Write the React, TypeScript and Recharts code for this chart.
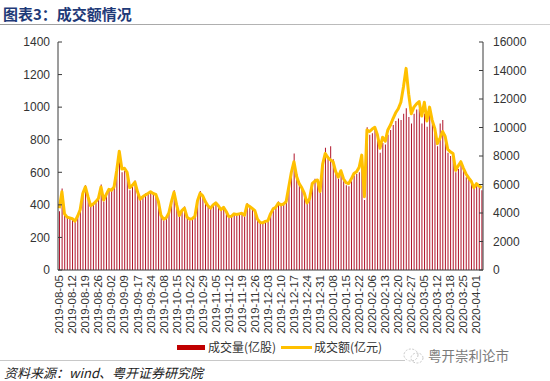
import React from 'react';
import { ComposedChart, Bar, Line, XAxis, YAxis } from 'recharts';

const startDate = '2019-08-05';
const endDate = '2020-04-03';
const holidays = [
  '2019-09-13', '2019-10-01', '2019-10-02', '2019-10-03', '2019-10-04', '2019-10-07',
  '2020-01-01', '2020-01-24', '2020-01-27', '2020-01-28', '2020-01-29', '2020-01-30', '2020-01-31',
];
const extraDays = ['2020-03-14'];

// 成交量(亿股)
const volume = [
  360, 500, 340, 320, 315, 310, 300, 325, 365, 480,
  520, 440, 390, 400, 415, 435, 525, 420, 470, 500,
  495, 520, 620, 720, 600, 610, 590, 490, 520, 550,
  470, 430, 455, 470, 475, 480, 465, 455, 410, 325,
  305, 315, 345, 425, 490, 395, 330, 370, 390, 320,
  305, 310, 325, 430, 485, 450, 415, 390, 375, 395,
  410, 390, 365, 380, 355, 320, 325, 340, 335, 340,
  345, 330, 410, 395, 370, 360, 305, 285, 285, 292,
  298, 340, 372, 385, 420, 395, 400, 420, 520, 610,
  716, 590, 545, 510, 460, 405, 430, 540, 560, 550,
  475, 660, 750, 700, 760, 680, 600, 560, 600, 545,
  520, 515, 545, 580, 590, 600, 650, 430, 876, 830,
  840, 860, 800, 720, 780, 770, 830, 860, 890, 915,
  930, 921, 960, 993, 940, 900, 960, 985, 990, 900,
  960, 880, 1000, 930, 860, 760, 900, 921, 830, 720,
  700, 690, 600, 620, 650, 620, 570, 560, 540, 500,
  520, 510, 490,
];

// 成交额(亿元)
const amount = [
  4340, 5490, 3940, 3710, 3660, 3600, 3430, 3770, 4230, 5370,
  5830, 5140, 4510, 4630, 4800, 5030, 5830, 4910, 5310, 5660,
  5600, 5830, 6970, 8340, 7090, 7140, 6860, 5770, 5940, 6170,
  5490, 4970, 5140, 5260, 5370, 5490, 5370, 5310, 4800, 3830,
  3570, 3660, 4000, 4800, 5460, 4570, 3830, 4170, 4340, 3710,
  3570, 3600, 3770, 4860, 5390, 5200, 4800, 4510, 4340, 4570,
  4710, 4510, 4230, 4400, 4110, 3750, 3770, 3940, 3890, 3940,
  3980, 3830, 4570, 4460, 4320, 4170, 3570, 3340, 3310, 3410,
  3450, 3940, 4290, 4400, 4690, 4570, 4630, 4800, 5830, 6860,
  7600, 6570, 6060, 5770, 5370, 4710, 5010, 6060, 6230, 6320,
  5510, 7430, 8180, 7890, 7720, 7600, 6900, 6520, 6970, 6400,
  6120, 6060, 6400, 6770, 6900, 7200, 8060, 5140, 9830, 9720,
  9890, 10010, 9490, 8550, 9320, 9030, 9830, 10170, 10630, 11030,
  11320, 11770, 12860, 14150, 12340, 10970, 11430, 11660, 11820, 10800,
  11770, 10460, 11430, 10520, 9940, 8860, 9260, 9720, 9370, 8460,
  8290, 8180, 6990, 7310, 7600, 7140, 6740, 6460, 6230, 5770,
  6060, 5890, 5770,
];

const leftTicks = [0, 200, 400, 600, 800, 1000, 1200, 1400];
const rightTicks = [0, 2000, 4000, 6000, 8000, 10000, 12000, 14000, 16000];

const seriesNames = { volume: '成交量(亿股)', amount: '成交额(亿元)' };
const titleText = '图表3：成交额情况';
const sourceText = '资料来源：wind、粤开证券研究院';
const watermarkText = '粤开崇利论市';

function buildDates(): string[] {
  const out: string[] = [];
  const d = new Date(startDate + 'T00:00:00Z');
  const end = new Date(endDate + 'T00:00:00Z');
  while (d <= end) {
    const s = d.toISOString().slice(0, 10);
    const wd = d.getUTCDay();
    if ((wd !== 0 && wd !== 6 && !holidays.includes(s)) || extraDays.includes(s)) out.push(s);
    d.setUTCDate(d.getUTCDate() + 1);
  }
  return out;
}

const dates = buildDates();
const data = dates.map((date, i) => ({ date, volume: volume[i], amount: amount[i] }));

const AXIS = '#3a3a3a';
const TICK_FONT = '"Liberation Sans", Arial, sans-serif';

const XTick = (props: any) => {
  const { x, y, payload } = props;
  return (
    <text
      x={x}
      y={y}
      transform={`rotate(-90, ${x}, ${y})`}
      textAnchor="end"
      dominantBaseline="central"
      fontSize={11.5}
      fill="#333"
      fontFamily={TICK_FONT}
    >
      {payload.value}
    </text>
  );
};

export default function App() {
  return (
    <div style={{ position: 'absolute', left: 0, top: 0, width: 550, height: 381, background: '#fff', overflow: 'hidden' }}>
      <div
        style={{
          position: 'absolute', left: 3, top: 4, fontSize: 15, fontWeight: 'bold', color: '#1f3a78',
          fontFamily: '"Noto Sans CJK SC", sans-serif', lineHeight: '20px', whiteSpace: 'nowrap',
        }}
      >
        {titleText}
      </div>
      <div style={{ position: 'absolute', left: 0, top: 24, width: 550, height: 1, background: 'linear-gradient(to right, #9a9a9a, #d0d0d0)' }} />

      <ComposedChart
        width={550}
        height={381}
        data={data}
        margin={{ top: 42, right: 7, bottom: 41, left: 0 }}
        barCategoryGap={0}
      >
        <XAxis
          dataKey="date"
          interval={4}
          tick={<XTick />}
          tickLine={false}
          tickSize={0}
          tickMargin={5}
          height={70}
          axisLine={{ stroke: AXIS }}
        />
        <YAxis
          yAxisId="left"
          domain={[0, 1400]}
          ticks={leftTicks}
          width={58}
          tickSize={-4}
          tickMargin={12}
          axisLine={{ stroke: AXIS }}
          tickLine={{ stroke: AXIS }}
          tick={{ fontSize: 12, fill: '#333', fontFamily: TICK_FONT }}
          interval={0}
        />
        <YAxis
          yAxisId="right"
          orientation="right"
          domain={[0, 16000]}
          ticks={rightTicks}
          width={60}
          tickSize={-4}
          tickMargin={14}
          axisLine={{ stroke: AXIS }}
          tickLine={{ stroke: AXIS }}
          tick={{ fontSize: 12, fill: '#333', fontFamily: TICK_FONT, textAnchor: 'start' }}
          interval={0}
        />
        <Bar yAxisId="left" dataKey="volume" fill="#B0142A" barSize={1} isAnimationActive={false} />
        <Line
          yAxisId="right"
          dataKey="amount"
          type="linear"
          stroke="#FFC000"
          strokeWidth={3}
          dot={false}
          activeDot={false}
          strokeLinejoin="round"
          isAnimationActive={false}
        />
      </ComposedChart>

      <div style={{ position: 'absolute', left: 177, top: 345, width: 28, height: 5, background: '#C00000' }} />
      <div style={{ position: 'absolute', left: 208, top: 340, fontSize: 12, lineHeight: '14px', color: '#333', fontFamily: '"Noto Sans CJK SC", serif', whiteSpace: 'nowrap' }}>
        {seriesNames.volume}
      </div>
      <div style={{ position: 'absolute', left: 281, top: 346, width: 31, height: 3, background: '#FFC000' }} />
      <div style={{ position: 'absolute', left: 314, top: 340, fontSize: 12, lineHeight: '14px', color: '#333', fontFamily: '"Noto Sans CJK SC", serif', whiteSpace: 'nowrap' }}>
        {seriesNames.amount}
      </div>

      <div style={{ position: 'absolute', left: 0, top: 360, width: 405, height: 1, background: '#c8c8c8' }} />
      <svg style={{ position: 'absolute', left: 402, top: 347 }} width={24} height={18}>
        <ellipse cx={9} cy={8} rx={7} ry={6} fill="none" stroke="#c8c8c8" strokeWidth={1} strokeDasharray="2 1.5" />
        <ellipse cx={15} cy={11} rx={6} ry={5} fill="none" stroke="#c8c8c8" strokeWidth={1} strokeDasharray="2 1.5" />
      </svg>
      <div style={{ position: 'absolute', left: 428, top: 347, fontSize: 13.5, lineHeight: '16px', color: '#7a7a7a', fontFamily: '"Noto Sans CJK SC", sans-serif', whiteSpace: 'nowrap' }}>
        {watermarkText}
      </div>
      <div style={{ position: 'absolute', left: 4, top: 365, fontSize: 13, lineHeight: '16px', color: '#222', fontStyle: 'italic', fontFamily: '"Noto Sans CJK SC", sans-serif', whiteSpace: 'nowrap' }}>
        {sourceText}
      </div>
    </div>
  );
}
